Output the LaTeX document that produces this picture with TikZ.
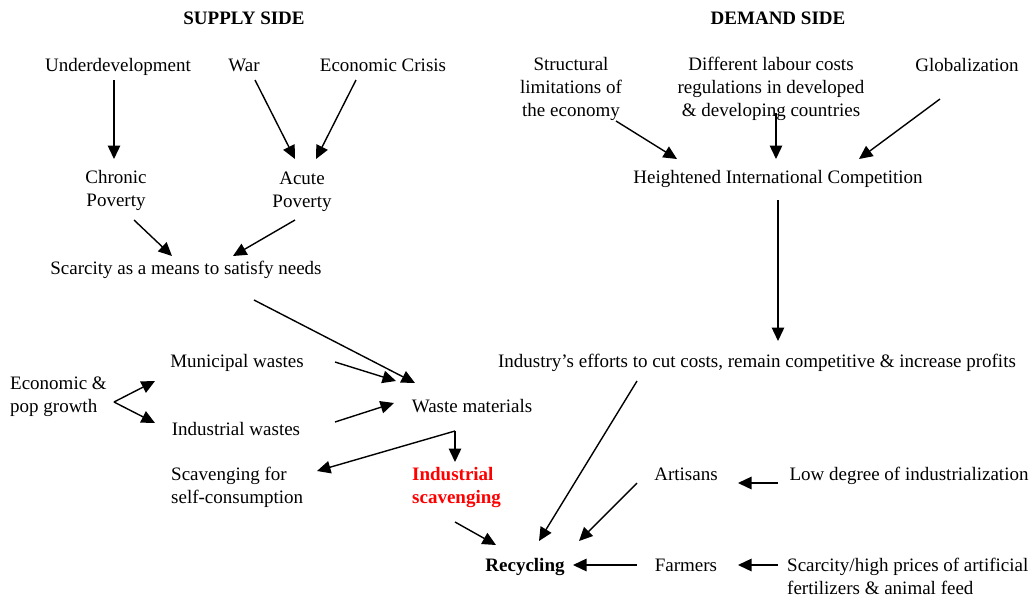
\documentclass[tikz,border=0pt]{standalone}
\usepackage{fontspec}
\setmainfont{Liberation Serif}
\usetikzlibrary{arrows.meta}
\definecolor{hot}{RGB}{255,0,0}
\begin{document}
\begin{tikzpicture}[x=1pt,y=-1pt,
  lbl/.style={inner sep=0pt,font=\fontsize{19}{23}\selectfont},
  bl/.style={lbl,anchor=base},
  ml/.style={lbl,align=center,anchor=center},
  ll/.style={lbl,align=left,anchor=west},
  head/.style={bl,font=\fontsize{19}{23}\selectfont\bfseries},
  arr/.style={line width=1.4pt,-{Triangle[length=13.5pt,width=12.5pt]}}]
\useasboundingbox (0,0) rectangle (1031,598);
% headings
\node[head] (sup) at (244,24) {SUPPLY SIDE};
\node[head] (dem) at (778,24) {DEMAND SIDE};
% supply side
\node[bl] (under) at (118,71) {Underdevelopment};
\node[bl] (war) at (244,71) {War};
\node[bl] (crisis) at (383,71) {Economic Crisis};
\node[ml] (chronic) at (116,190) {Chronic\\Poverty};
\node[ml] (acute) at (302,191.5) {Acute\\Poverty};
\node[bl] (scarce) at (186,274) {Scarcity as a means to satisfy needs};
\node[bl] (muni) at (237,367) {Municipal wastes};
\node[ll] (growth) at (10,397) {Economic \&\\pop growth};
\node[bl] (waste) at (472,412) {Waste materials};
\node[bl] (indw) at (236,435) {Industrial wastes};
\node[ll] (selfc) at (171,487) {Scavenging for\\self-consumption};
\node[ll,text=hot,font=\fontsize{19}{23}\selectfont\bfseries] (indsc) at (412,487) {Industrial\\scavenging};
\node[bl,font=\fontsize{19}{23}\selectfont\bfseries] (recyc) at (525,571) {Recycling};
% demand side
\node[ml] (struct) at (571,89) {Structural\\limitations of\\the economy};
\node[ml] (labour) at (771,89) {Different labour costs\\regulations in developed\\\& developing countries};
\node[bl] (glob) at (967,71) {Globalization};
\node[bl] (heigh) at (778,183) {Heightened International Competition};
\node[bl] (effort) at (757,367) {Industry’s efforts to cut costs, remain competitive \& increase profits};
\node[bl] (artis) at (686,480) {Artisans};
\node[bl] (lowdeg) at (909,480) {Low degree of industrialization};
\node[bl] (farm) at (686,571) {Farmers};
\node[ll] (fert) at (787,576) {Scarcity/high prices of artificial\\fertilizers \& animal feed};
% arrow end points
\coordinate (a1s) at (114,80);  \coordinate (a1e) at (114,159);
\coordinate (a2s) at (255,80);  \coordinate (a2e) at (295,159);
\coordinate (a3s) at (356,80);  \coordinate (a3e) at (316,159);
\coordinate (a4s) at (134,220); \coordinate (a4e) at (172,256);
\coordinate (a5s) at (295,220); \coordinate (a5e) at (233,256);
\coordinate (a6s) at (254,300); \coordinate (a6e) at (415,383);
\coordinate (a7s) at (335,362); \coordinate (a7e) at (396,381);
\coordinate (gv) at (114,402);  \coordinate (g1) at (155,381); \coordinate (g2) at (155,423);
\coordinate (a8s) at (335,422); \coordinate (a8e) at (394,403);
\coordinate (wv) at (455,431);  \coordinate (w1) at (317,471); \coordinate (w2) at (455,462);
\coordinate (a9s) at (455,522); \coordinate (a9e) at (496,545);
\coordinate (b1s) at (616,121); \coordinate (b1e) at (677,159);
\coordinate (b2s) at (776,113); \coordinate (b2e) at (776,159);
\coordinate (b3s) at (940,99);  \coordinate (b3e) at (859,159);
\coordinate (b4s) at (778,200); \coordinate (b4e) at (778,341);
\coordinate (b5s) at (637,381); \coordinate (b5e) at (539,541);
\coordinate (b6s) at (637,483); \coordinate (b6e) at (579,541);
\coordinate (b7s) at (637,565); \coordinate (b7e) at (573,565);
\coordinate (b8s) at (778,483); \coordinate (b8e) at (738,483);
\coordinate (b9s) at (778,565); \coordinate (b9e) at (738,565);
% arrows
\draw[arr] (a1s) -- (a1e);
\draw[arr] (a2s) -- (a2e);
\draw[arr] (a3s) -- (a3e);
\draw[arr] (a4s) -- (a4e);
\draw[arr] (a5s) -- (a5e);
\draw[arr] (a6s) -- (a6e);
\draw[arr] (a7s) -- (a7e);
\draw[arr] (gv) -- (g1);
\draw[arr] (gv) -- (g2);
\draw[arr] (a8s) -- (a8e);
\draw[arr] (wv) -- (w1);
\draw[arr] (wv) -- (w2);
\draw[arr] (a9s) -- (a9e);
\draw[arr] (b1s) -- (b1e);
\draw[arr] (b2s) -- (b2e);
\draw[arr] (b3s) -- (b3e);
\draw[arr] (b4s) -- (b4e);
\draw[arr] (b5s) -- (b5e);
\draw[arr] (b6s) -- (b6e);
\draw[arr] (b7s) -- (b7e);
\draw[arr] (b8s) -- (b8e);
\draw[arr] (b9s) -- (b9e);
\end{tikzpicture}
\end{document}
